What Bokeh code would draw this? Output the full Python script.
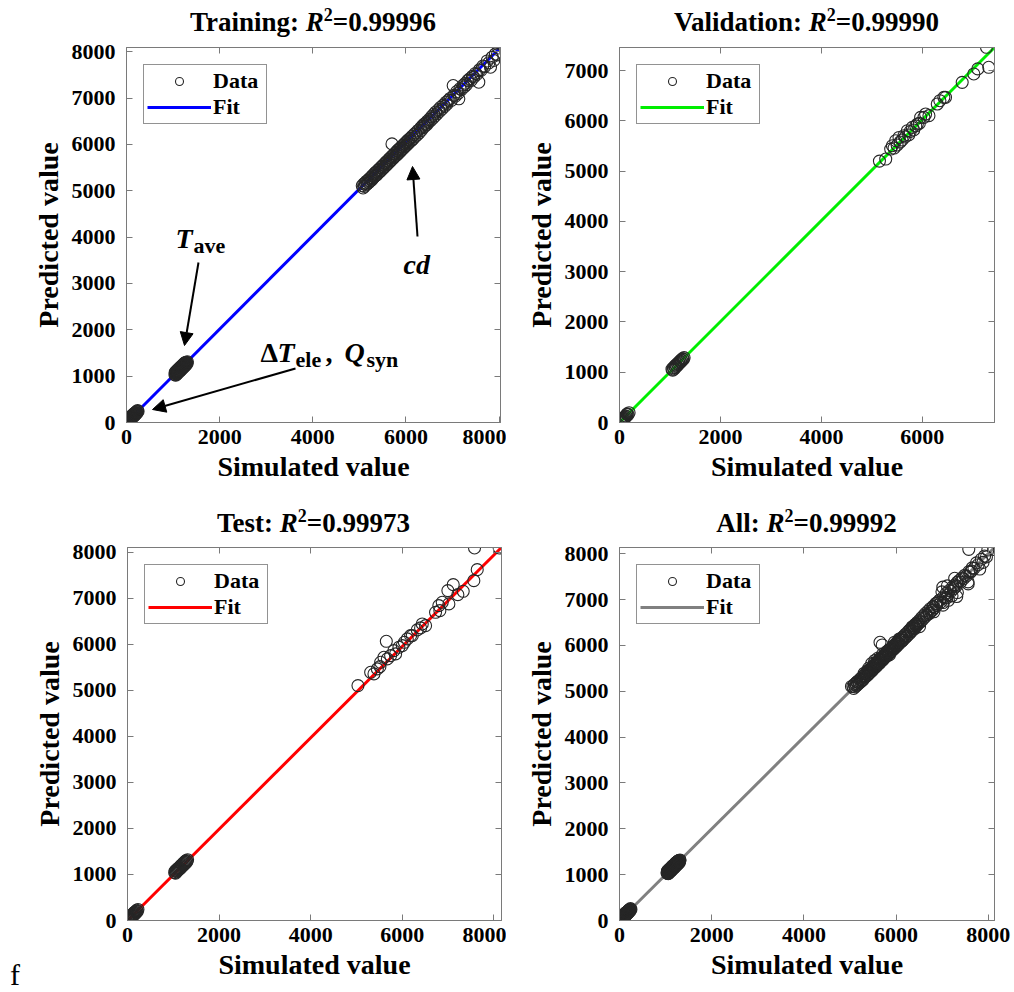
from bokeh.plotting import figure
from bokeh.layouts import row, column
from bokeh.models import (Range1d, FixedTicker, LinearAxis, Label, Arrow,
                          NormalHead, Legend, LegendItem, Div)
from bokeh.embed import file_html
from bokeh.resources import INLINE

FONT = "Liberation Serif"
FRAME = "#7a7a7a"
MARK = "#262626"

# ---------------- data ----------------
# Training set: low group (dT_ele, Q_syn), T_ave group, cd group
train_sim = [0, 4, 8, 12, 16, 20, 24, 28, 33, 38, 42, 47, 52, 57, 62, 66, 71, 76, 81, 86, 91, 96, 101, 107, 112,
             118, 123, 129, 134, 140, 146, 152, 158, 164, 170, 177, 183, 190, 197, 204, 212, 220, 229, 238, 248,
             1040, 1045, 1050, 1058, 1062, 1068, 1075, 1080, 1085, 1092, 1098, 1103, 1108, 1114, 1120, 1125,
             1131, 1136, 1142, 1148, 1153, 1159, 1165, 1170, 1176, 1181, 1187, 1192, 1198, 1203, 1209, 1215,
             1220, 1226, 1231, 1237, 1242, 1248, 1254, 1260, 1266, 1272, 1278, 1285, 1292, 1300, 1308,
             5062, 5080, 5095, 5110, 5125, 5140, 5155, 5170, 5185, 5200, 5215, 5230, 5245, 5260, 5275, 5290,
             5305, 5320, 5335, 5350, 5365, 5380, 5395, 5410, 5425, 5440, 5455, 5470, 5485, 5500, 5515, 5530,
             5545, 5560, 5575, 5590, 5605, 5620, 5635, 5650, 5665, 5680, 5700, 5695, 5710, 5725, 5740, 5755,
             5770, 5785, 5800, 5815, 5830, 5845, 5860, 5875, 5890, 5905, 5920, 5935, 5950, 5965, 5980, 5995,
             6010, 6025, 6040, 6055, 6070, 6090, 6110, 6130, 6150, 6170, 6190, 6210, 6235, 6260, 6285, 6312,
             6330, 6350, 6372, 6384, 6400, 6414, 6440, 6460, 6480, 6500, 6527, 6550, 6575, 6598, 6620, 6640,
             6670, 6698, 6720, 6742, 6770, 6805, 6830, 6860, 6880, 6910, 6948, 6975, 7014, 7030, 7060, 7090,
             7120, 7135, 7160, 7190, 7231, 7250, 7279, 7300, 7330, 7374, 7400, 7430, 7457, 7490, 7520, 7564,
             7580, 7610, 7650, 7690, 7744, 7780, 7815, 7850, 7886, 7920, 7960, 7990]
train_pred = [12, 38, 2, 25, 55, 18, 40, 70, 30, 58, 85, 44, 66, 98, 55, 80, 112, 70, 95, 122, 84, 108, 136, 96, 120,
              150, 110, 134, 165, 125, 150, 180, 140, 166, 196, 160, 186, 214, 178, 206, 236, 202, 226, 258, 240,
              1030, 1080, 1055, 1020, 1100, 1065, 1040, 1120, 1085, 1060, 1130, 1100, 1075, 1150, 1118, 1090,
              1170, 1140, 1110, 1185, 1150, 1125, 1200, 1172, 1140, 1215, 1190, 1160, 1230, 1205, 1175, 1250,
              1222, 1195, 1265, 1240, 1210, 1280, 1255, 1228, 1295, 1270, 1245, 1300, 1288, 1270, 1310,
              5108, 5060, 5150, 5095, 5170, 5125, 5205, 5150, 5225, 5175, 5260, 5205, 5285, 5230, 5320, 5265,
              5345, 5300, 5385, 5325, 5405, 5350, 5440, 5385, 5465, 5410, 5500, 5440, 5525, 5470, 5560, 5505,
              5585, 5530, 5620, 5565, 5645, 5590, 5680, 5620, 5710, 5655, 6010, 5740, 5680, 5770, 5715, 5800,
              5745, 5830, 5770, 5865, 5800, 5890, 5830, 5920, 5860, 5950, 5895, 5980, 5920, 6010, 5955, 6040,
              5980, 6070, 6010, 6100, 6045, 6130, 6075, 6170, 6115, 6210, 6160, 6250, 6200, 6300, 6250, 6350,
              6300, 6395, 6360, 6430, 6390, 6455, 6420, 6500, 6470, 6540, 6510, 6600, 6560, 6650, 6610, 6700,
              6660, 6750, 6710, 6800, 6760, 6850, 6820, 6910, 6870, 6950, 6990, 6950, 7270, 7060, 7040, 7140,
              7100, 6983, 7200, 7180, 7280, 7240, 7320, 7290, 7380, 7420, 7380, 7470, 7450, 7530, 7510, 7341,
              7610, 7594, 7690, 7680, 7800, 7760, 7665, 7880, 7810, 7950, 7930, 8080]

val_sim = [10, 20, 28, 36, 45, 55, 62, 72, 80, 90, 100, 112, 122, 135, 145, 153, 170, 190,
           1040, 1055, 1068, 1080, 1095, 1108, 1120, 1135, 1148, 1160, 1172, 1185, 1198, 1210, 1222, 1235, 1250, 1265, 1280,
           5150, 5275, 5373, 5407, 5440, 5472, 5500, 5538, 5560, 5600, 5636, 5660, 5704, 5730, 5760, 5802, 5830, 5870, 5901,
           5940, 5966, 6032, 6065, 6131, 6296, 6348, 6427, 6460, 6790, 7020, 7099, 7271, 7316]
val_pred = [20, 8, 35, 22, 50, 40, 70, 60, 90, 78, 110, 98, 130, 120, 160, 173, 158, 195,
            1060, 1040, 1090, 1060, 1120, 1095, 1145, 1120, 1170, 1150, 1195, 1175, 1220, 1200, 1245, 1230, 1270, 1255, 1290,
            5200, 5241, 5440, 5506, 5460, 5606, 5520, 5671, 5580, 5620, 5705, 5680, 5805, 5720, 5790, 5871, 5820, 5900, 5938,
            5950, 6070, 6070, 6137, 6104, 6336, 6402, 6468, 6468, 6767, 6934, 7034, 7464, 7066]

test_sim = [5, 12, 20, 28, 36, 45, 52, 62, 70, 80, 88, 98, 106, 115, 125, 135, 145, 155, 166, 178, 190, 202, 215, 228,
            1030, 1040, 1050, 1060, 1070, 1082, 1092, 1104, 1114, 1125, 1136, 1147, 1158, 1170, 1180, 1192, 1203,
            1215, 1226, 1238, 1250, 1262, 1274, 1286, 1298, 1312,
            5032, 5309, 5381, 5455, 5512, 5527, 5599, 5651, 5673, 5745, 5817, 5854, 5926, 6000, 6045, 6109, 6181, 6218,
            6327, 6399, 6436, 6508, 6726, 6798, 6820, 6872, 6995, 7017, 7112, 7213, 7330, 7562, 7577, 7636, 8116]
test_pred = [10, 35, 5, 45, 25, 60, 40, 80, 55, 100, 75, 120, 95, 140, 112, 160, 130, 180, 150, 200, 172, 222, 200, 240,
             1040, 1075, 1030, 1090, 1060, 1110, 1080, 1130, 1100, 1150, 1120, 1172, 1140, 1195, 1165, 1215, 1185,
             1240, 1210, 1262, 1232, 1285, 1255, 1305, 1280, 1320,
             5104, 5393, 5358, 5467, 5517, 5610, 5719, 6067, 5684, 5756, 5864, 5793, 5936, 5973, 6045, 6119, 6190, 6190,
             6314, 6358, 6444, 6407, 6697, 6842, 6733, 6914, 7168, 6879, 7298, 7081, 7153, 7385, 8095, 7624, 8095]

all_sim = train_sim + val_sim + test_sim
all_pred = train_pred + val_pred + test_pred

fit_train_x, fit_train_y = [0, 8030], [0, 8090]
fit_val_x, fit_val_y = [0, 7430], [0, 7460]
fit_test_x, fit_test_y = [0, 8166], [0, 8105]
fit_all_x, fit_all_y = [0, 8135], [0, 8135]

set_names = ["Training", "Validation", "Test", "All"]
r2_values = ["0.99996", "0.99990", "0.99973", "0.99992"]
x_ticks_a = [0, 2000, 4000, 6000, 8000]
x_ticks_b = [0, 2000, 4000, 6000]
y_ticks_a = [0, 1000, 2000, 3000, 4000, 5000, 6000, 7000, 8000]
y_ticks_b = [0, 1000, 2000, 3000, 4000, 5000, 6000, 7000]


def style_axis(ax, ticks, show=True):
    ax.ticker = FixedTicker(ticks=ticks)
    ax.axis_line_color = FRAME
    ax.axis_line_width = 1
    ax.major_tick_line_color = FRAME
    ax.major_tick_in = 6
    ax.major_tick_out = 0
    ax.minor_tick_line_color = None
    ax.major_label_text_font = FONT
    ax.major_label_text_font_style = "bold"
    ax.major_label_text_color = "black"
    ax.axis_label_text_font = FONT
    ax.axis_label_text_font_style = "bold"
    ax.axis_label_text_font_size = "28px"
    ax.axis_label_text_color = "black"
    if show:
        ax.major_label_text_font_size = "22px"
    else:
        ax.major_label_overrides = {t: "" for t in ticks}
        ax.major_label_text_font_size = "1px"
        ax.major_label_standoff = 0


def make_panel(fig_w, fig_h, frame, fig_origin, xr, yr, xticks, yticks,
               sim, pred, fx, fy, color):
    left, right, top, bottom = frame
    ox, oy = fig_origin
    p = figure(width=fig_w, height=fig_h, title=None,
               x_range=Range1d(xr[0], xr[1]), y_range=Range1d(yr[0], yr[1]),
               output_backend="svg", toolbar_location=None,
               min_border_left=left - ox, min_border_right=ox + fig_w - right,
               min_border_top=top - oy, min_border_bottom=oy + fig_h - bottom)
    p.xgrid.visible = False
    p.ygrid.visible = False
    p.outline_line_color = FRAME
    p.background_fill_color = "white"
    p.border_fill_color = "white"

    style_axis(p.xaxis[0], xticks)
    style_axis(p.yaxis[0], yticks)
    p.xaxis[0].axis_label = "Simulated value"
    p.yaxis[0].axis_label = "Predicted value"
    p.xaxis[0].major_label_standoff = 7
    p.yaxis[0].major_label_standoff = 11
    p.xaxis[0].axis_label_standoff = 4
    p.yaxis[0].axis_label_standoff = 5
    top_ax = LinearAxis()
    right_ax = LinearAxis()
    style_axis(top_ax, xticks, show=False)
    style_axis(right_ax, yticks, show=False)
    p.add_layout(top_ax, "above")
    p.add_layout(right_ax, "right")

    line = p.line(fx, fy, line_color=color, line_width=3)
    sc = p.scatter(sim, pred, marker="circle", size=12, fill_color=None,
                   line_color=MARK, line_width=1.1)

    leg = Legend(items=[LegendItem(label="Data", renderers=[sc]),
                        LegendItem(label="Fit", renderers=[line])],
                 location="top_left")
    leg.border_line_color = "#262626"
    leg.border_line_width = 1
    leg.background_fill_color = "white"
    leg.background_fill_alpha = 1
    leg.label_text_font = FONT
    leg.label_text_font_style = "bold"
    leg.label_text_font_size = "22px"
    leg.label_text_color = "black"
    leg.glyph_width = 64
    leg.glyph_height = 20
    leg.label_height = 20
    leg.label_width = 50
    leg.label_standoff = 2
    leg.padding = 3
    leg.spacing = -2
    leg.margin = 17
    p.add_layout(leg, "center")

    def d(X, Y):
        return (xr[0] + (X - left) / (right - left) * (xr[1] - xr[0]),
                yr[0] + (bottom - Y) / (bottom - top) * (yr[1] - yr[0]))
    return p, d


def title_div(name, r2, width, height, frame_left, frame_w, pad_top):
    html = ('<div style="margin-left:%dpx; width:%dpx; padding-top:%dpx; text-align:center; '
            'font-family:\'Liberation Serif\'; font-weight:bold; font-size:27px; line-height:32px; '
            'color:black; white-space:nowrap;">%s: <i>R</i><span style="font-size:18px; '
            'position:relative; top:-10px;">2</span>=%s</div>') % (frame_left, frame_w, pad_top, name, r2)
    return Div(text=html, width=width, height=height, margin=0)


# ---- row 1 ----
t1 = title_div(set_names[0], r2_values[0], 506, 40, 126, 374, 6)
t2 = title_div(set_names[1], r2_values[1], 506, 40, 113, 375, 6)

p1, d1 = make_panel(506, 450, (126, 500, 47, 422), (0, 40), (0, 8030), (0, 8090),
                    x_ticks_a, y_ticks_a, train_sim, train_pred, fit_train_x, fit_train_y,
                    "#0000ff")


def lab(p, d, X, Y, text, size, style="bold"):
    x, y = d(X, Y)
    p.add_layout(Label(x=x, y=y, text=text, text_font=FONT,
                       text_font_size=size, text_font_style=style,
                       text_color="black", text_align="left",
                       text_baseline="alphabetic"))


lab(p1, d1, 175, 238, "T", "28px", "bold italic")
lab(p1, d1, 193, 245, "ave", "22px", "bold")
lab(p1, d1, 403, 264, "cd", "28px", "bold italic")
lab(p1, d1, 260, 352, "\u0394", "28px", "bold")
lab(p1, d1, 277, 352, "T", "28px", "bold italic")
lab(p1, d1, 295, 359, "ele", "22px", "bold")
lab(p1, d1, 325, 352, ",", "28px", "bold")
lab(p1, d1, 344, 352, "Q", "28px", "bold italic")
lab(p1, d1, 366, 359, "syn", "22px", "bold")
for (sx, sy), (ex, ey) in [((198, 262), (184, 345)), ((417, 236), (412, 166)),
                           ((295, 368), (152, 409))]:
    xs, ys = d1(sx, sy)
    xe, ye = d1(ex, ey)
    p1.add_layout(Arrow(end=NormalHead(size=13, fill_color="black", line_color="black"),
                        x_start=xs, y_start=ys, x_end=xe, y_end=ye,
                        line_color="black", line_width=2))

p2, d2 = make_panel(506, 450, (619, 994, 47, 422), (506, 40), (0, 7430), (0, 7460),
                    x_ticks_b, y_ticks_b, val_sim, val_pred, fit_val_x, fit_val_y,
                    "#00ee00")

# ---- row 2 ----
t3 = title_div(set_names[2], r2_values[2], 506, 50, 126, 375, 17)
t4 = title_div(set_names[3], r2_values[3], 506, 50, 113, 375, 17)

f_div = Div(text='<div style="padding-top:420px; padding-left:10px; font-family:\'Liberation Serif\'; '
                 'font-size:30px; line-height:30px; color:black;">f</div>', width=30, height=448, margin=0)

p3, d3 = make_panel(476, 448, (126, 501, 547, 920), (30, 540), (0, 8166), (0, 8105),
                    x_ticks_a, y_ticks_a, test_sim, test_pred, fit_test_x, fit_test_y,
                    "#ff0000")

p4, d4 = make_panel(506, 448, (619, 994, 546, 921), (506, 540), (0, 8135), (0, 8135),
                    x_ticks_a, y_ticks_a, all_sim, all_pred, fit_all_x, fit_all_y,
                    "#808080")

layout = column(row(t1, t2, spacing=0), row(p1, p2, spacing=0),
                row(t3, t4, spacing=0), row(f_div, p3, p4, spacing=0), spacing=0)
open("out.html", "w").write(file_html(layout, INLINE))
